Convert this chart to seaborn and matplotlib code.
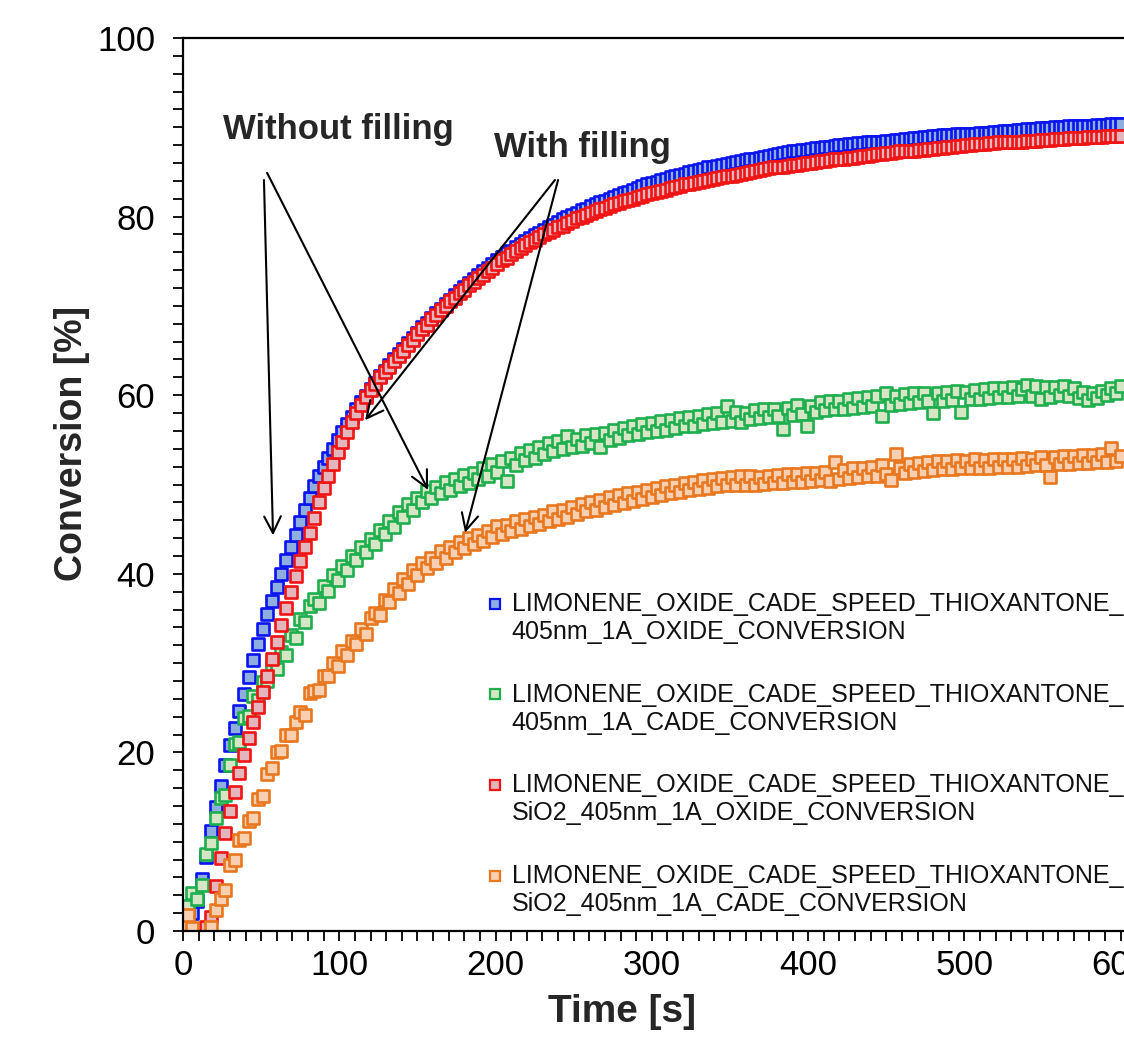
import numpy as np
import pandas as pd
import matplotlib
matplotlib.use("Agg")
import matplotlib.pyplot as plt
import seaborn as sns
from matplotlib.legend_handler import HandlerLine2D
from matplotlib.lines import Line2D
from matplotlib.ticker import MultipleLocator

# Sampling times [s]
time_s = [
    0, 3, 6, 9, 12, 15, 18, 21, 24, 27,
    30, 33, 36, 39, 42, 45, 48, 51, 54, 57,
    60, 63, 66, 69, 72, 75, 78, 81, 84, 87,
    90, 93, 96, 99, 102, 105, 108, 111, 114, 117,
    120, 123, 126, 129, 132, 135, 138, 141, 144, 147,
    150, 153, 156, 159, 162, 165, 168, 171, 174, 177,
    180, 183, 186, 189, 192, 195, 198, 201, 204, 207,
    210, 213, 216, 219, 222, 225, 228, 231, 234, 237,
    240, 243, 246, 249, 252, 255, 258, 261, 264, 267,
    270, 273, 276, 279, 282, 285, 288, 291, 294, 297,
    300, 303, 306, 309, 312, 315, 318, 321, 324, 327,
    330, 333, 336, 339, 342, 345, 348, 351, 354, 357,
    360, 363, 366, 369, 372, 375, 378, 381, 384, 387,
    390, 393, 396, 399, 402, 405, 408, 411, 414, 417,
    420, 423, 426, 429, 432, 435, 438, 441, 444, 447,
    450, 453, 456, 459, 462, 465, 468, 471, 474, 477,
    480, 483, 486, 489, 492, 495, 498, 501, 504, 507,
    510, 513, 516, 519, 522, 525, 528, 531, 534, 537,
    540, 543, 546, 549, 552, 555, 558, 561, 564, 567,
    570, 573, 576, 579, 582, 585, 588, 591, 594, 597,
    600,
]

# Epoxide conversion without filler [%]
oxide_neat = [
    0.3, 1.2, 2.0, 3.4, 5.8, 8.3, 11.2, 13.9, 16.2, 18.6,
    20.8, 22.7, 24.6, 26.5, 28.4, 30.3, 32.1, 33.8, 35.5, 37.0,
    38.5, 40.0, 41.5, 43.0, 44.4, 45.8, 47.1, 48.5, 49.8, 50.9,
    52.0, 53.0, 54.0, 55.0, 55.9, 56.8, 57.6, 58.4, 59.2, 59.9,
    60.7, 61.4, 62.1, 62.7, 63.4, 64.0, 64.6, 65.2, 65.8, 66.4,
    67.0, 67.6, 68.1, 68.7, 69.2, 69.7, 70.2, 70.7, 71.2, 71.7,
    72.1, 72.6, 73.0, 73.5, 73.9, 74.3, 74.7, 75.1, 75.5, 75.9,
    76.2, 76.6, 76.9, 77.3, 77.6, 77.9, 78.2, 78.5, 78.8, 79.1,
    79.4, 79.7, 79.9, 80.2, 80.4, 80.7, 80.9, 81.2, 81.4, 81.6,
    81.8, 82.0, 82.2, 82.4, 82.6, 82.8, 83.0, 83.2, 83.4, 83.6,
    83.8, 83.9, 84.1, 84.2, 84.4, 84.5, 84.7, 84.8, 85.0, 85.1,
    85.2, 85.3, 85.5, 85.6, 85.7, 85.8, 85.9, 86.0, 86.1, 86.2,
    86.3, 86.4, 86.5, 86.6, 86.7, 86.8, 86.9, 87.0, 87.1, 87.2,
    87.3, 87.4, 87.5, 87.5, 87.6, 87.7, 87.7, 87.8, 87.8, 87.9,
    88.0, 88.0, 88.1, 88.1, 88.2, 88.2, 88.3, 88.3, 88.4, 88.4,
    88.5, 88.5, 88.6, 88.6, 88.7, 88.7, 88.8, 88.8, 88.9, 88.9,
    89.0, 89.0, 89.1, 89.1, 89.1, 89.2, 89.2, 89.3, 89.3, 89.3,
    89.4, 89.4, 89.4, 89.5, 89.5, 89.6, 89.6, 89.6, 89.7, 89.7,
    89.8, 89.8, 89.8, 89.9, 89.9, 89.9, 90.0, 90.0, 90.0, 90.1,
    90.1, 90.1, 90.2, 90.2, 90.2, 90.3, 90.3, 90.3, 90.4, 90.4,
    90.4,
]

# Vinyl ether (CADE) conversion without filler [%]
cade_neat = [
    1.2, 2.8, 4.2, 3.6, 5.2, 8.6, 9.8, 12.6, 14.9, 15.2,
    18.6, 20.9, 21.2, 23.9, 24.1, 26.3, 25.9, 27.9, 28.0, 29.6,
    29.3, 31.2, 30.9, 33.1, 32.8, 34.9, 34.6, 36.4, 37.2, 36.7,
    38.6, 38.1, 39.9, 39.3, 40.9, 40.4, 42.0, 41.5, 43.0, 42.4,
    43.9, 43.3, 44.9, 44.5, 45.9, 45.2, 46.9, 46.4, 47.8, 47.1,
    48.5, 48.0, 49.3, 48.5, 49.7, 49.0, 50.3, 49.4, 50.6, 49.8,
    51.1, 50.2, 51.3, 50.6, 51.8, 51.0, 52.3, 51.4, 52.6, 50.4,
    53.0, 52.2, 53.5, 52.7, 53.9, 53.0, 54.2, 53.4, 54.6, 53.7,
    54.9, 54.0, 55.4, 54.2, 55.1, 54.3, 55.5, 54.6, 55.6, 54.2,
    55.8, 55.0, 56.1, 55.2, 56.3, 55.5, 56.6, 55.6, 56.8, 55.9,
    56.9, 56.0, 57.1, 56.1, 57.2, 56.3, 57.4, 56.5, 57.6, 56.6,
    57.7, 56.8, 57.9, 56.9, 58.0, 57.0, 58.8, 57.1, 58.1, 57.0,
    58.0, 57.3, 58.3, 57.5, 58.4, 57.6, 58.5, 57.7, 56.2, 58.6,
    57.8, 58.9, 57.9, 56.5, 58.8, 58.1, 59.2, 58.3, 59.3, 58.4,
    59.4, 58.5, 59.6, 58.6, 59.7, 58.7, 59.8, 58.8, 59.9, 57.7,
    60.2, 58.9, 59.9, 59.0, 60.1, 59.1, 60.2, 59.2, 60.3, 59.3,
    58.0, 60.3, 59.4, 60.4, 59.5, 60.5, 58.1, 60.4, 59.6, 60.6,
    59.6, 60.7, 59.7, 60.8, 59.8, 60.8, 59.8, 60.9, 59.9, 60.7,
    61.1, 59.9, 61.0, 59.6, 60.9, 59.8, 60.9, 60.0, 61.0, 59.9,
    60.8, 59.7, 60.4, 59.5, 60.3, 59.7, 60.5, 60.0, 60.8, 60.2,
    61.0,
]

# Epoxide conversion with SiO2 filler [%]
oxide_sio2 = [
    -3.0, -3.0, -3.0, -3.0, -3.0, 0.4, 1.6, 5.0, 8.2, 11.0,
    13.4, 15.6, 17.7, 19.7, 21.6, 23.4, 25.1, 26.8, 28.6, 30.5,
    32.4, 34.3, 36.2, 38.0, 39.7, 41.4, 43.0, 44.6, 46.3, 48.0,
    49.6, 51.0, 52.3, 53.6, 54.8, 55.9, 57.0, 58.0, 58.9, 59.8,
    60.6, 61.3, 62.0, 62.6, 63.2, 63.8, 64.4, 65.0, 65.6, 66.2,
    66.8, 67.4, 67.9, 68.5, 69.0, 69.5, 70.0, 70.5, 70.9, 71.4,
    71.8, 72.3, 72.7, 73.1, 73.5, 73.9, 74.3, 74.7, 75.1, 75.4,
    75.8, 76.1, 76.5, 76.8, 77.1, 77.4, 77.7, 78.0, 78.3, 78.5,
    78.8, 79.0, 79.3, 79.5, 79.8, 80.0, 80.2, 80.4, 80.6, 80.8,
    81.0, 81.2, 81.4, 81.5, 81.7, 81.9, 82.0, 82.2, 82.3, 82.5,
    82.6, 82.8, 82.9, 83.0, 83.2, 83.3, 83.4, 83.6, 83.7, 83.8,
    83.9, 84.0, 84.1, 84.2, 84.3, 84.4, 84.5, 84.6, 84.7, 84.8,
    84.9, 85.0, 85.1, 85.2, 85.3, 85.4, 85.5, 85.5, 85.6, 85.7,
    85.8, 85.8, 85.9, 86.0, 86.0, 86.1, 86.2, 86.2, 86.3, 86.4,
    86.4, 86.5, 86.6, 86.6, 86.7, 86.8, 86.8, 86.9, 87.0, 87.0,
    87.1, 87.1, 87.2, 87.3, 87.3, 87.4, 87.4, 87.5, 87.5, 87.6,
    87.6, 87.7, 87.7, 87.8, 87.8, 87.9, 87.9, 88.0, 88.0, 88.1,
    88.1, 88.1, 88.2, 88.2, 88.3, 88.3, 88.3, 88.4, 88.4, 88.4,
    88.5, 88.5, 88.5, 88.6, 88.6, 88.6, 88.7, 88.7, 88.7, 88.8,
    88.8, 88.8, 88.8, 88.9, 88.9, 88.9, 88.9, 89.0, 89.0, 89.0,
    89.0,
]

# Vinyl ether (CADE) conversion with SiO2 filler [%]
cade_sio2 = [
    0.4, 1.8, 0.3, -3.0, -3.0, -3.0, 0.4, 2.4, 3.6, 4.6,
    7.4, 8.0, 10.2, 10.4, 12.3, 12.7, 14.8, 15.1, 17.6, 18.2,
    20.1, 20.2, 22.0, 21.9, 23.4, 24.5, 24.2, 26.6, 26.9, 27.0,
    28.6, 28.5, 30.0, 29.7, 31.3, 30.9, 32.5, 32.1, 33.8, 33.3,
    35.0, 35.6, 35.4, 37.1, 36.8, 38.3, 37.9, 39.4, 38.9, 40.4,
    39.9, 41.2, 40.6, 41.8, 41.2, 42.5, 41.8, 43.0, 42.4, 43.6,
    42.9, 44.0, 43.3, 44.4, 43.7, 44.8, 44.1, 45.3, 44.5, 45.5,
    44.8, 45.9, 45.0, 46.1, 45.3, 46.4, 45.6, 46.6, 45.9, 47.0,
    46.1, 47.2, 46.4, 47.5, 46.7, 47.8, 47.0, 48.0, 47.2, 48.3,
    47.5, 48.6, 47.7, 48.8, 47.9, 49.0, 48.2, 49.2, 48.4, 49.4,
    48.6, 49.6, 48.8, 49.8, 49.0, 50.0, 49.2, 50.2, 49.4, 50.3,
    49.5, 50.5, 49.6, 50.6, 49.8, 50.7, 49.9, 50.8, 50.0, 50.9,
    50.0, 50.9, 49.9, 50.8, 50.1, 51.0, 50.2, 51.1, 50.2, 51.2,
    50.3, 51.2, 50.3, 51.3, 50.4, 51.3, 50.5, 51.4, 50.4, 52.5,
    50.6, 51.6, 50.7, 51.8, 50.8, 51.9, 51.0, 52.0, 51.0, 52.2,
    51.2, 50.5, 53.4, 51.9, 51.3, 52.3, 51.4, 52.4, 51.5, 52.5,
    51.6, 52.6, 51.7, 52.6, 51.7, 52.7, 51.8, 52.6, 51.8, 52.8,
    51.9, 52.7, 51.9, 52.9, 52.0, 52.8, 52.0, 52.9, 52.0, 53.0,
    52.1, 52.9, 52.2, 53.1, 52.2, 50.8, 53.1, 52.3, 53.2, 52.3,
    53.2, 52.4, 53.3, 52.4, 53.3, 52.5, 53.4, 52.5, 54.1, 52.6,
    53.2,
]

series_labels = [
    "LIMONENE_OXIDE_CADE_SPEED_THIOXANTONE_\n405nm_1A_OXIDE_CONVERSION",
    "LIMONENE_OXIDE_CADE_SPEED_THIOXANTONE_\n405nm_1A_CADE_CONVERSION",
    "LIMONENE_OXIDE_CADE_SPEED_THIOXANTONE_\nSiO2_405nm_1A_OXIDE_CONVERSION",
    "LIMONENE_OXIDE_CADE_SPEED_THIOXANTONE_\nSiO2_405nm_1A_CADE_CONVERSION",
]
series_values = [oxide_neat, cade_neat, oxide_sio2, cade_sio2]
edge_colors = ["#0A14F0", "#1DAF4E", "#F01414", "#E8771F"]
fill_colors = ["#8FAEE0", "#D6E6C4", "#E3B5BD", "#F8CFB0"]

sns.set_style("ticks")
plt.rcParams["font.family"] = ["Liberation Sans", "DejaVu Sans"]
plt.rcParams["axes.edgecolor"] = "black"
plt.rcParams["xtick.color"] = "black"
plt.rcParams["ytick.color"] = "black"

W, H = 1124, 1046
fig = plt.figure(figsize=(W / 100, H / 100), dpi=100)
# axes runs past the right edge of the canvas (x range 0-700 s)
ax = fig.add_axes([183 / W, 1 - 931 / H, 1094 / W, 893 / H])

for vals, ec, fc in zip(series_values, edge_colors, fill_colors):
    df = pd.DataFrame({"Time [s]": time_s, "Conversion [%]": vals})
    sns.scatterplot(data=df, x="Time [s]", y="Conversion [%]", ax=ax,
                    marker="s", s=66, color=fc, edgecolor=ec,
                    linewidth=1.9, legend=False)

ax.set_xlim(0, 700)
ax.set_ylim(0, 100)
ax.xaxis.set_major_locator(MultipleLocator(100))
ax.xaxis.set_minor_locator(MultipleLocator(10))
ax.yaxis.set_major_locator(MultipleLocator(20))
ax.yaxis.set_minor_locator(MultipleLocator(2))
ax.tick_params(which="both", direction="out", length=7, width=1.3,
               top=False, right=False)
ax.tick_params(axis="x", labelsize=25, pad=6)
ax.tick_params(axis="y", labelsize=25, pad=13)
for side in ["left", "bottom", "top", "right"]:
    ax.spines[side].set_linewidth(1.6)
    ax.spines[side].set_color("black")

ax.set_xlabel("Time [s]", fontsize=28, fontweight="bold")
ax.set_ylabel("Conversion [%]", fontsize=27, fontweight="bold")
ax.xaxis.set_label_coords((622 - 183) / 1094, -(994 - 931) / 893)
ax.yaxis.set_label_coords((90 - 183) / 1094, (931 - 443) / 893)

# Annotations
arrow_kw = dict(arrowstyle="->", lw=1.5, color="black",
                mutation_scale=30, shrinkA=0, shrinkB=0)
ax.annotate("", xy=(57.6, 44.3), xytext=(51.8, 84.1), arrowprops=arrow_kw)
ax.annotate("", xy=(156.8, 49.4), xytext=(53.8, 84.9), arrowprops=arrow_kw)
ax.annotate("", xy=(116.5, 57.2), xytext=(238.0, 84.1), arrowprops=arrow_kw)
ax.annotate("", xy=(180.5, 44.6), xytext=(240.0, 84.1), arrowprops=arrow_kw)
ax.text(99.2, 89.7, "Without filling", ha="center", va="center",
        fontsize=25, fontweight="bold")
ax.text(255.4, 87.7, "With filling", ha="center", va="center",
        fontsize=25, fontweight="bold")


class FirstLineHandler(HandlerLine2D):
    """Places the legend marker next to the first line of a two-line label."""

    def create_artists(self, legend, orig_handle, xdescent, ydescent,
                       width, height, fontsize, trans):
        arts = super().create_artists(legend, orig_handle, xdescent, ydescent,
                                      width, height, fontsize, trans)
        for a in arts:
            a.set_ydata(np.asarray(a.get_ydata(), dtype=float) + 0.6 * fontsize)
        return arts


handles = [Line2D([], [], ls="none", marker="s", markersize=6.5,
                  markerfacecolor=fc, markeredgecolor=ec, markeredgewidth=1.6)
           for ec, fc in zip(edge_colors, fill_colors)]
leg = ax.legend(handles, series_labels, loc="upper left",
                bbox_to_anchor=(489 / W, 1 - 592 / H),
                bbox_transform=fig.transFigure, frameon=False,
                fontsize=18, handlelength=0.5, handletextpad=0.4,
                labelspacing=1.55, borderpad=0, borderaxespad=0,
                handler_map={Line2D: FirstLineHandler()})
for t in leg.get_texts():
    t.set_linespacing(1.21)
    t.set_color("#111111")

fig.savefig("out.png", dpi=100)
